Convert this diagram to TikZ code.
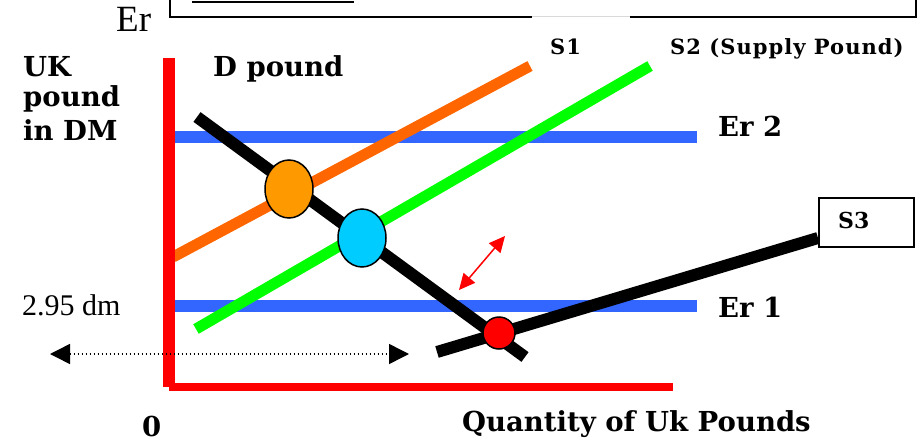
\documentclass[tikz,border=0pt]{standalone}
\usepackage{fontspec}
\setmainfont{Liberation Serif}
\newfontfamily\lblfont{DejaVu Serif}
\newfontfamily\smallfont[LetterSpace=5]{DejaVu Serif}
\usetikzlibrary{
    arrows.meta
}
\definecolor{axisred}{HTML}{FF0000}
\definecolor{rateblue}{HTML}{3366FF}
\definecolor{sonecol}{HTML}{FF6600}
\definecolor{stwocol}{HTML}{00FF00}
\definecolor{eqorange}{HTML}{FF9900}
\definecolor{eqcyan}{HTML}{00CCFF}

\begin{document}
\begin{tikzpicture}[x=1pt,y=-1pt,
    lbl/.style={anchor=base west,inner sep=0pt,font={\lblfont\bfseries\fontsize{27.5}{30}\selectfont}},
    smalllbl/.style={anchor=base west,inner sep=0pt,font={\smallfont\bfseries\fontsize{21}{24}\selectfont}},
    plainlbl/.style={anchor=base west,inner sep=0pt,font={\fontsize{30}{32}\selectfont}},
    curve/.style={line width=12pt}]
\useasboundingbox (0,0) rectangle (923,444);

% frame cut at the top
\draw[line width=2pt] (170,-5) -- (170,17) -- (532,17);
\draw[line width=2pt] (630,17) -- (916,17) -- (916,-5);
\draw[line width=1pt,black!15] (532,17) -- (630,17);
\draw[line width=1.5pt] (192,2) -- (354,2);
\node[plainlbl,font={\fontsize{37}{37}\selectfont}] (er) at (116,32) {Er};

\coordinate (Ytop) at (169,58);
\coordinate (O) at (169,387);
\coordinate (Xend) at (673,387);

\coordinate (Sa) at (173,257);
\coordinate (Sb) at (530,66);
\coordinate (Ta) at (196,329);
\coordinate (Tb) at (650,66);
\coordinate (Da) at (197,117);
\coordinate (Db) at (525,357);
\coordinate (Ua) at (437,352);
\coordinate (Ub) at (818,238);

\draw[curve,rateblue] (170,137) -- (697,137);
\draw[curve,rateblue] (170,306) -- (697,306);

\draw[curve,sonecol,line width=11pt] (Sa) -- (Sb);
\draw[curve,stwocol,line width=11pt] (Ta) -- (Tb);
\draw[curve] (Da) -- (Db);

\node[draw,line width=1.5pt,minimum width=95pt,minimum height=49pt,anchor=north west,inner sep=0pt] (s3box) at (818,197) {};
\node[smalllbl,font={\lblfont\bfseries\fontsize{22}{24}\selectfont}] (s3) at (838,228) {S3};
\draw[curve] (Ua) -- (Ub);

\draw[line width=12pt,axisred] (O) -- (Ytop);
\draw[line width=8pt,axisred] (O) -- (Xend);

\coordinate (E1) at (289,189);
\coordinate (E2) at (362,238);
\coordinate (E3) at (499,333);
\draw[line width=1.5pt,fill=eqorange] (E1) ellipse [x radius=24, y radius=29];
\draw[line width=1.5pt,fill=eqcyan] (E2) ellipse [x radius=24, y radius=29];
\draw[line width=1.5pt,fill=axisred] (E3) circle [radius=16];

\coordinate (Ra) at (459,290);
\coordinate (Rb) at (505,236);
\draw[axisred,line width=1.5pt,{Triangle[length=16pt,width=15pt]}-{Triangle[length=16pt,width=15pt]}] (Ra) -- (Rb);

\coordinate (La) at (50,354);
\coordinate (Lb) at (409,354);
\draw[line width=1.5pt,dash pattern=on 1.5pt off 2.5pt,{Triangle[length=20pt,width=20pt]}-{Triangle[length=20pt,width=20pt]}] (La) -- (Lb);

% labels
\node[lbl] (uk) at (23,77) {UK};
\node[lbl] (pound) at (23,106) {pound};
\node[lbl] (indm) at (23,140) {in DM};
\node[lbl] (dpound) at (213,76) {D pound};
\node[lbl] (er2) at (718,136) {Er 2};
\node[lbl] (er1) at (718,317) {Er 1};
\node[plainlbl] (price) at (22,315) {2.95 dm};
\node[lbl] (zero) at (142,436) {0};
\node[lbl] (qty) at (462,431) {Quantity of Uk Pounds};
\node[smalllbl] (s1) at (550,55) {S1};
\node[smalllbl] (s2) at (670,55) {S2 (Supply Pound)};
\end{tikzpicture}
\end{document}
